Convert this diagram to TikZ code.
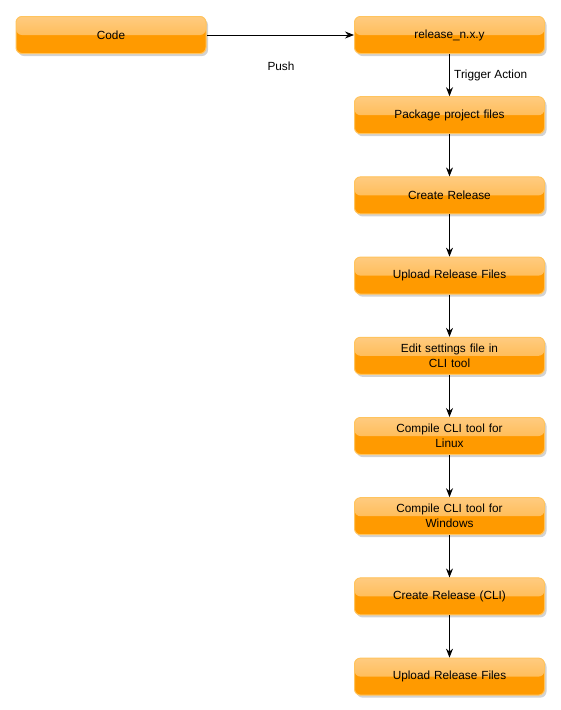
\documentclass[tikz,border=0pt]{standalone}
\usepackage{fontspec}
\setmainfont{Liberation Sans}
\usepackage{tikz}
\usetikzlibrary{arrows.meta,positioning,shadows}
\definecolor{boxfill}{HTML}{FF9A00}
\definecolor{boxtop}{HTML}{FFCB80}
\definecolor{boxmid}{HTML}{FFB035}
\definecolor{boxline}{HTML}{FFC45E}

\begin{document}
\begin{tikzpicture}[>={Stealth[length=9pt,width=7pt,inset=3pt]},
             every node/.style={font=\fontsize{11.8}{15}\selectfont},
             stepbox/.style={rectangle, draw=boxline, line width=1pt, fill=boxfill,
                         rounded corners=6pt, minimum width=190pt, minimum height=37pt,
                         text width=180pt, align=center, inner sep=2pt,
                         drop shadow={opacity=0.35, shadow xshift=2pt, shadow yshift=-2.5pt},
                         path picture={\shade[top color=boxtop, bottom color=boxmid]
                           (path picture bounding box.north west) rectangle
                           (path picture bounding box.east);}},
             flow/.style={->, thick, line width=0.8pt},
             node distance=42.2pt]
\useasboundingbox (0,0) rectangle (560pt,-710pt);
%% source code and release branch
\node[stepbox] (code) at (111pt,-35pt) {Code};
\node[stepbox] (rel)  at (449.5pt,-35pt) {release\_n.x.y};
\draw[flow] (code) -- (rel);
\node (push) at (281pt,-66pt) {Push};
%% action steps
\node[stepbox, below=of rel]  (pack)  {Package project files};
\node[stepbox, below=of pack] (crel)  {Create Release};
\node[stepbox, below=of crel] (upl)   {Upload Release Files};
\node[stepbox, below=of upl]  (edit)  {Edit settings file in\\CLI tool};
\node[stepbox, below=of edit] (lin)   {Compile CLI tool for\\Linux};
\node[stepbox, below=of lin]  (win)   {Compile CLI tool for\\Windows};
\node[stepbox, below=of win]  (ccli)  {Create Release (CLI)};
\node[stepbox, below=of ccli] (upl2)  {Upload Release Files};
%% arrows
\draw[flow] (rel) -- node[right=1pt] {Trigger Action} (pack);
\draw[flow] (pack) -- (crel);
\draw[flow] (crel) -- (upl);
\draw[flow] (upl) -- (edit);
\draw[flow] (edit) -- (lin);
\draw[flow] (lin) -- (win);
\draw[flow] (win) -- (ccli);
\draw[flow] (ccli) -- (upl2);
\end{tikzpicture}
\end{document}
